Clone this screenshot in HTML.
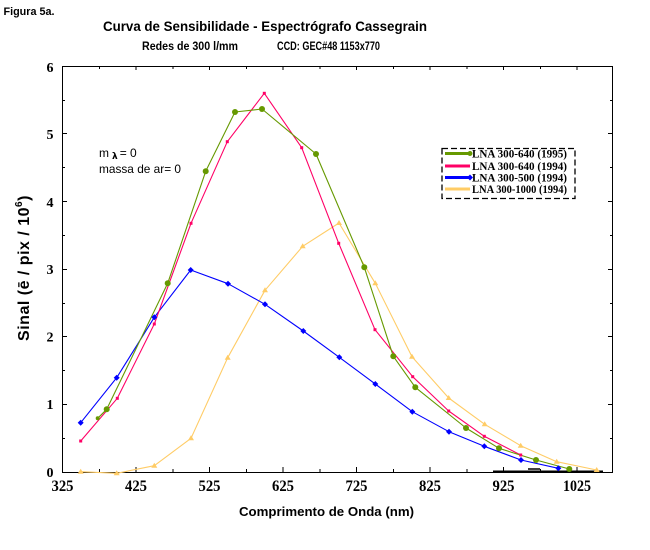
<!DOCTYPE html>
<html><head><meta charset="utf-8"><style>
html,body{margin:0;padding:0;background:#fff;}
svg{display:block;}
</style></head><body>
<svg width="650" height="550" viewBox="0 0 650 550" xmlns="http://www.w3.org/2000/svg">
<rect width="650" height="550" fill="#fff"/>
<!-- titles -->
<text x="3.5" y="15" font-family="Liberation Sans, sans-serif" font-weight="bold" font-size="11" textLength="51" lengthAdjust="spacingAndGlyphs">Figura 5a.</text>
<text x="103" y="31" font-family="Liberation Sans, sans-serif" font-weight="bold" font-size="14" textLength="324" lengthAdjust="spacingAndGlyphs">Curva de Sensibilidade - Espectrógrafo Cassegrain</text>
<text x="142" y="50" font-family="Liberation Sans, sans-serif" font-weight="bold" font-size="11.5" textLength="96" lengthAdjust="spacingAndGlyphs">Redes de 300 l/mm</text>
<text x="277" y="50" font-family="Liberation Sans, sans-serif" font-weight="bold" font-size="11.5" textLength="103" lengthAdjust="spacingAndGlyphs">CCD: GEC#48 1153x770</text>

<!-- frame -->
<g stroke="#000" stroke-width="1" fill="none" shape-rendering="crispEdges">
<path d="M62.5 66.5 H612.5 V472.5 H62.5 Z"/>
</g>
<!-- ticks -->
<g stroke="#000" stroke-width="1" shape-rendering="crispEdges">
<path d="M62.5 472V467 M136 472V467 M209.5 472V467 M283 472V467 M356.5 472V467 M430 472V467 M503.5 472V467 M577 472V467"/>
<path d="M99.5 472V469 M173 472V469 M246.5 472V469 M320 472V469 M393.5 472V469 M467 472V469 M540.5 472V469"/>
<path d="M136 66V70 M209.5 66V70 M283 66V70 M356.5 66V70 M430 66V70 M503.5 66V70 M577 66V70"/>
<path d="M99.5 66V69 M173 66V69 M246.5 66V69 M320 66V69 M393.5 66V69 M467 66V69 M540.5 66V69"/>
<path d="M62 404.5H67 M62 336.5H67 M62 269.5H67 M62 201.5H67 M62 133.5H67"/>
<path d="M62 438.5H65 M62 370.5H65 M62 303.5H65 M62 235.5H65 M62 167.5H65 M62 100.5H65"/>
<path d="M613 404.5H608 M613 336.5H608 M613 269.5H608 M613 201.5H608 M613 133.5H608"/>
<path d="M613 438.5H610 M613 370.5H610 M613 303.5H610 M613 235.5H610 M613 167.5H610 M613 100.5H610"/>
</g>
<path d="M493 471.5H603" stroke="#000" stroke-width="2"/>
<path d="M528 469H540" stroke="#000" stroke-width="1.5"/>

<!-- x labels -->
<g font-family="Liberation Serif, serif" font-weight="bold" font-size="16" text-anchor="middle">
<text x="62.5" y="491" textLength="22" lengthAdjust="spacingAndGlyphs">325</text>
<text x="136" y="491" textLength="22" lengthAdjust="spacingAndGlyphs">425</text>
<text x="209.5" y="491" textLength="22" lengthAdjust="spacingAndGlyphs">525</text>
<text x="283" y="491" textLength="22" lengthAdjust="spacingAndGlyphs">625</text>
<text x="356.5" y="491" textLength="22" lengthAdjust="spacingAndGlyphs">725</text>
<text x="430" y="491" textLength="22" lengthAdjust="spacingAndGlyphs">825</text>
<text x="503.5" y="491" textLength="22" lengthAdjust="spacingAndGlyphs">925</text>
<text x="577" y="491" textLength="28" lengthAdjust="spacingAndGlyphs">1025</text>
</g>
<!-- y labels -->
<g font-family="Liberation Serif, serif" font-weight="bold" font-size="14" text-anchor="end">
<text x="53.5" y="477">0</text>
<text x="53.5" y="409">1</text>
<text x="53.5" y="341.5">2</text>
<text x="53.5" y="274">3</text>
<text x="53.5" y="207">4</text>
<text x="53.5" y="139">5</text>
<text x="53.5" y="72">6</text>
</g>
<!-- axis titles -->
<text x="239" y="516" font-family="Liberation Sans, sans-serif" font-weight="bold" font-size="13" textLength="175" lengthAdjust="spacingAndGlyphs">Comprimento de Onda (nm)</text>
<text transform="translate(29,268) rotate(-90)" text-anchor="middle" font-family="Liberation Sans, sans-serif" font-weight="bold" font-size="16" letter-spacing="0.5">Sinal (ē / pix / 10<tspan font-size="10" dy="-7">6</tspan><tspan dy="7">)</tspan></text>

<!-- annotation -->
<text x="99" y="157" font-family="Liberation Sans, sans-serif" font-size="12">m<tspan font-family="DejaVu Sans, sans-serif" font-weight="bold" font-size="9" dx="3" dy="2">λ</tspan><tspan dy="-2" dx="2">= 0</tspan></text>
<text x="99" y="173" font-family="Liberation Sans, sans-serif" font-size="12" textLength="82" lengthAdjust="spacingAndGlyphs">massa de ar= 0</text>

<!-- series -->
<g fill="none" stroke-width="1.1" stroke-linejoin="round">
<polyline stroke="#ffcc66" points="80.7,471.7 116.7,473.3 154.3,465.7 191,438.3 227.7,357.7 265,290.3 302.7,246.3 339,223 375.3,283.3 412,356.7 448.7,398 484.7,424.3 520.7,445.7 556.7,461.7 596.7,470"/>
<polyline stroke="#0000ff" points="80.7,422.7 116.7,377.7 154.3,317.3 190.7,270 228,283.7 265,304.3 303.3,331 339.3,357.3 375.3,384 412.3,411.7 449,431.7 484.3,446.3 521,460 558.3,468.3"/>
<polyline stroke="#ff0066" points="80.7,441 117.3,398.3 154.3,324 191,223.3 227.3,141.7 264.3,93.3 301.7,147.7 338.7,243.3 375,329.7 412.7,376.7 448.7,411 484.3,436.3 520.7,455"/>
<polyline stroke="#669900" points="97.7,418.3 106.7,409.3 167.7,283.3 205.7,171.3 235,112 262,109 316,154 364.3,267.3 393.3,356.3 415.3,387.3 466,428 499,448.3 536,460 569.3,469"/>
</g>
<g fill="#ffcc66">
<path d="M80.7,468.7 l3,5 h-6z M116.7,470.3 l3,5 h-6z M154.3,462.7 l3,5 h-6z M191,435.3 l3,5 h-6z M227.7,354.7 l3,5 h-6z M265,287.3 l3,5 h-6z M302.7,243.3 l3,5 h-6z M339,220 l3,5 h-6z M375.3,280.3 l3,5 h-6z M412,353.7 l3,5 h-6z M448.7,395 l3,5 h-6z M484.7,421.3 l3,5 h-6z M520.7,442.7 l3,5 h-6z M556.7,458.7 l3,5 h-6z M596.7,467 l3,5 h-6z"/>
</g>
<g fill="#0000ff">
<path d="M80.7,419.7 l3,3 -3,3 -3,-3z M116.7,374.7 l3,3 -3,3 -3,-3z M154.3,314.3 l3,3 -3,3 -3,-3z M190.7,267 l3,3 -3,3 -3,-3z M228,280.7 l3,3 -3,3 -3,-3z M265,301.3 l3,3 -3,3 -3,-3z M303.3,328 l3,3 -3,3 -3,-3z M339.3,354.3 l3,3 -3,3 -3,-3z M375.3,381 l3,3 -3,3 -3,-3z M412.3,408.7 l3,3 -3,3 -3,-3z M449,428.7 l3,3 -3,3 -3,-3z M484.3,443.3 l3,3 -3,3 -3,-3z M521,457 l3,3 -3,3 -3,-3z M558.3,465.3 l3,3 -3,3 -3,-3z"/>
</g>
<g fill="#ff0066">
<rect x="79.2" y="439.5" width="3" height="3"/><rect x="115.8" y="396.8" width="3" height="3"/><rect x="152.8" y="322.5" width="3" height="3"/><rect x="189.5" y="221.8" width="3" height="3"/><rect x="225.8" y="140.2" width="3" height="3"/><rect x="262.8" y="91.8" width="3" height="3"/><rect x="300.2" y="146.2" width="3" height="3"/><rect x="337.2" y="241.8" width="3" height="3"/><rect x="373.5" y="328.2" width="3" height="3"/><rect x="411.2" y="375.2" width="3" height="3"/><rect x="447.2" y="409.5" width="3" height="3"/><rect x="482.8" y="434.8" width="3" height="3"/><rect x="519.2" y="453.5" width="3" height="3"/>
</g>
<g fill="#669900">
<circle cx="97.7" cy="418.3" r="2"/><circle cx="106.7" cy="409.3" r="3"/><circle cx="167.7" cy="283.3" r="3"/><circle cx="205.7" cy="171.3" r="3"/><circle cx="235" cy="112" r="3"/><circle cx="262" cy="109" r="3"/><circle cx="316" cy="154" r="3"/><circle cx="364.3" cy="267.3" r="3"/><circle cx="393.3" cy="356.3" r="3"/><circle cx="415.3" cy="387.3" r="3"/><circle cx="466" cy="428" r="3"/><circle cx="499" cy="448.3" r="3"/><circle cx="536" cy="460" r="3"/><circle cx="569.3" cy="469" r="3"/>
</g>

<!-- legend -->
<rect x="442" y="148.5" width="133" height="50" fill="#fff" stroke="#000" stroke-width="1.3" stroke-dasharray="6,3"/>
<g stroke-width="3">
<path d="M445 153.5H470" stroke="#669900"/>
<path d="M445 166H470" stroke="#ff0066"/>
<path d="M445 177.5H470" stroke="#0000ff"/>
<path d="M445 189H470" stroke="#ffcc66"/>
</g>
<circle cx="470" cy="153.5" r="2.5" fill="#669900"/>
<path d="M470,174.5 l3,3 -3,3 -3,-3z" fill="#0000ff"/>
<g font-family="Liberation Serif, serif" font-weight="bold" font-size="12">
<text x="472" y="157.5" textLength="95" lengthAdjust="spacingAndGlyphs">LNA 300-640  (1995)</text>
<text x="472" y="170" textLength="95" lengthAdjust="spacingAndGlyphs">LNA 300-640  (1994)</text>
<text x="472" y="181.5" textLength="95" lengthAdjust="spacingAndGlyphs">LNA 300-500  (1994)</text>
<text x="472" y="193" textLength="95" lengthAdjust="spacingAndGlyphs">LNA 300-1000 (1994)</text>
</g>
</svg>
</body></html>
